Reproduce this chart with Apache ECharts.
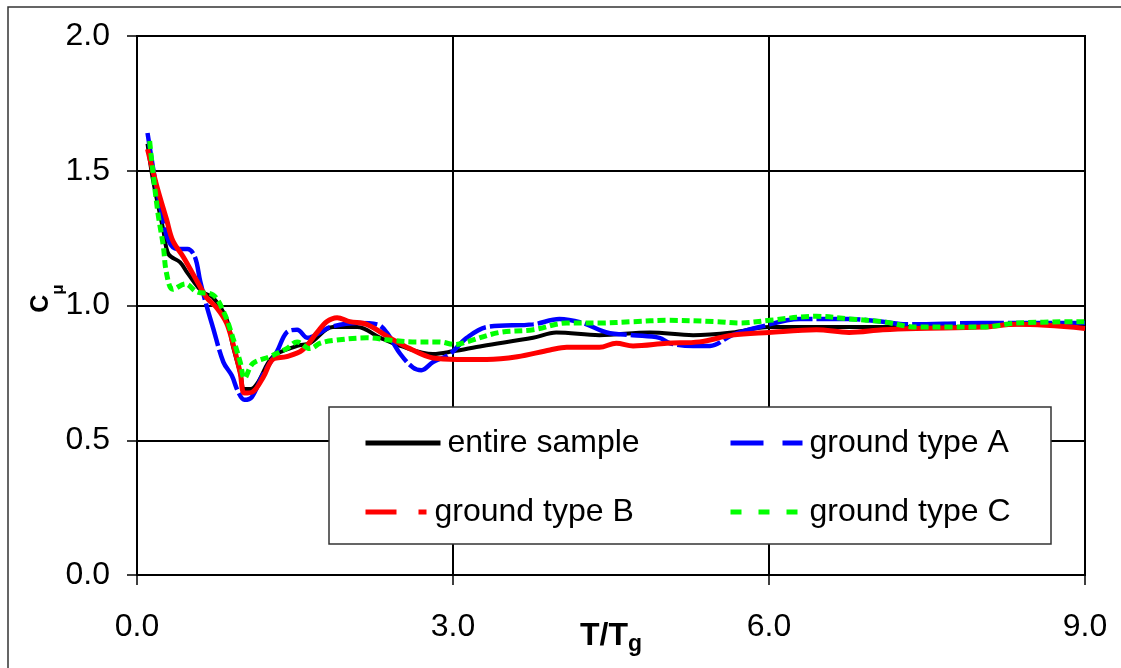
<!DOCTYPE html>
<html><head><meta charset="utf-8">
<script src="https://cdn.jsdelivr.net/npm/echarts@6/dist/echarts.min.js"></script>
<style>html,body{margin:0;padding:0;background:#fff}#c{width:1121px;height:668px}</style>
</head><body><div id="c"></div>
<script>
// ---- data ----
const seriesNames = ['entire sample', 'ground type A', 'ground type B', 'ground type C'];
const xTickValues = [0, 3, 6, 9];
const yTickValues = [0, 0.5, 1, 1.5, 2];

const entireX = [0.10,0.15,0.25,0.30,0.41,0.48,0.62,0.72,0.85,0.91,0.98,1.02,1.08,1.14,1.29,1.52,1.64,1.86,2.09,2.31,2.50,2.81,3.00,3.28,3.76,3.98,4.39,4.87,5.28,5.65,6.00,6.45,7.08,7.70,8.40,9.00];
const entireY = [1.60,1.47,1.28,1.19,1.16,1.12,1.05,1.03,0.95,0.85,0.75,0.69,0.69,0.71,0.81,0.85,0.86,0.92,0.92,0.88,0.85,0.82,0.83,0.85,0.88,0.90,0.89,0.90,0.89,0.90,0.92,0.92,0.92,0.92,0.93,0.93];

const typeAX = [0.10,0.17,0.24,0.30,0.38,0.48,0.55,0.60,0.66,0.72,0.82,0.90,0.96,1.02,1.09,1.19,1.33,1.42,1.52,1.62,1.74,1.83,2.09,2.28,2.37,2.50,2.62,2.70,2.81,2.97,3.13,3.32,3.76,4.01,4.23,4.46,4.71,4.96,5.06,5.28,5.44,5.65,5.91,6.29,6.76,7.08,7.30,8.03,9.00];
const typeAY = [1.64,1.47,1.33,1.24,1.21,1.21,1.18,1.09,1.00,0.92,0.79,0.74,0.68,0.65,0.66,0.74,0.83,0.90,0.91,0.88,0.90,0.92,0.935,0.93,0.90,0.82,0.77,0.76,0.79,0.82,0.88,0.92,0.93,0.95,0.935,0.90,0.89,0.88,0.86,0.85,0.85,0.89,0.92,0.95,0.95,0.94,0.93,0.935,0.935];

const typeBX = [0.10,0.19,0.28,0.34,0.44,0.57,0.66,0.76,0.85,0.91,0.98,1.02,1.10,1.20,1.29,1.42,1.57,1.71,1.80,1.90,2.02,2.18,2.40,2.59,2.81,3.04,3.32,3.61,3.92,4.08,4.39,4.55,4.71,5.03,5.34,5.65,6.00,6.45,6.76,7.08,7.40,8.03,8.35,9.00];
const typeBY = [1.58,1.44,1.32,1.24,1.18,1.09,1.03,0.99,0.935,0.86,0.75,0.675,0.68,0.735,0.80,0.81,0.835,0.90,0.94,0.955,0.94,0.93,0.88,0.84,0.805,0.80,0.80,0.81,0.835,0.845,0.845,0.86,0.85,0.86,0.865,0.89,0.90,0.91,0.90,0.91,0.915,0.92,0.93,0.915];

const typeCX = [0.12,0.15,0.20,0.25,0.28,0.34,0.46,0.57,0.72,0.83,0.91,0.98,1.02,1.10,1.26,1.42,1.52,1.64,1.74,1.86,2.18,2.43,2.66,2.87,3.02,3.13,3.44,3.76,4.08,4.39,4.71,5.03,5.50,5.72,6.00,6.45,6.76,7.08,7.40,7.71,8.03,8.35,9.00];
const typeCY = [1.61,1.50,1.34,1.22,1.12,1.06,1.08,1.05,1.04,0.97,0.88,0.79,0.73,0.785,0.81,0.84,0.865,0.84,0.86,0.87,0.88,0.87,0.865,0.865,0.855,0.865,0.90,0.91,0.935,0.935,0.94,0.945,0.94,0.935,0.945,0.96,0.95,0.94,0.92,0.92,0.92,0.935,0.94];

const xTitleMain = 'T/T', xTitleSub = 'g';
const yTitleMain = 'C', yTitleSub = 'μ';

// ---- build ----
function pairs(xs, ys) { return xs.map((x, i) => [x, ys[i]]); }
const FONT = '"Liberation Sans", Arial, Helvetica, sans-serif';
const chart = echarts.init(document.getElementById('c'), null, {renderer: 'canvas'});

const colors = ['#000000', '#0000ff', '#ff0000', '#00ff00'];
const plotDash = ['solid', [44, 4], 'solid', [8, 4]];
const plotWidth = [4, 4.5, 5, 5];
const legendDash = ['solid', [33, 19], [31, 22, 8, 30], [11, 17]];
const legendPos = [[363, 443, 75], [728, 443, 72], [363, 512, 62], [728, 512, 72]];
const dataX = [entireX, typeAX, typeBX, typeCX];
const dataY = [entireY, typeAY, typeBY, typeCY];

const series = seriesNames.map((n, i) => ({
  name: n, type: 'line', data: pairs(dataX[i], dataY[i]),
  showSymbol: false, symbol: 'none', smooth: 0.35, z: 2 + i * 0.1,
  lineStyle: {color: colors[i], width: plotWidth[i], type: plotDash[i]},
  itemStyle: {color: colors[i]}
}));

const legends = seriesNames.map((n, i) => ({
  show: true, data: [n], left: legendPos[i][0], top: legendPos[i][1] - 16, padding: 0,
  itemWidth: legendPos[i][2], itemHeight: 5, itemGap: 0, selectedMode: false, z: 10,
  textStyle: {fontSize: 32, fontFamily: FONT, color: '#000', padding: [0, 0, 0, 2]},
  itemStyle: {opacity: 0},
  lineStyle: {width: 5, type: legendDash[i], color: colors[i]}
}));

const option = {
  backgroundColor: '#fff',
  animation: false,
  grid: {left: 137, top: 36, right: 36, bottom: 93, show: true, borderColor: '#000', borderWidth: 2,
         outerBoundsMode: 'none', containLabel: false},
  xAxis: {
    type: 'value', min: xTickValues[0], max: xTickValues[xTickValues.length - 1], interval: xTickValues[1] - xTickValues[0],
    axisLine: {show: true, onZero: false, lineStyle: {color: '#000', width: 2}},
    axisTick: {show: true, length: 10, lineStyle: {color: '#000', width: 1.5}},
    axisLabel: {formatter: v => v.toFixed(1), fontSize: 32, color: '#000', fontFamily: FONT, margin: 36},
    splitLine: {show: true, lineStyle: {color: '#000', width: 2}},
    name: '{m|' + xTitleMain + '}{s|' + xTitleSub + '}', nameLocation: 'middle', nameGap: 45, nameMoveOverlap: false,
    nameTextStyle: {rich: {
      m: {fontSize: 32, fontWeight: 'bold', fontFamily: FONT, color: '#000', verticalAlign: 'bottom', padding: [0, 0, 4, 0]},
      s: {fontSize: 23, fontWeight: 'bold', fontFamily: FONT, color: '#000', verticalAlign: 'bottom'}
    }}
  },
  yAxis: {
    type: 'value', min: yTickValues[0], max: yTickValues[yTickValues.length - 1], interval: yTickValues[1] - yTickValues[0],
    axisLine: {show: true, lineStyle: {color: '#000', width: 2}},
    axisTick: {show: true, length: 10, lineStyle: {color: '#000', width: 1.5}},
    axisLabel: {formatter: v => v.toFixed(1), fontSize: 32, color: '#000', fontFamily: FONT, margin: 27},
    splitLine: {show: true, lineStyle: {color: '#000', width: 2}},
    name: '{m|' + yTitleMain + '}{s|' + yTitleSub + '}', nameLocation: 'middle', nameGap: 70, nameRotate: 90, nameMoveOverlap: false,
    nameTextStyle: {padding: [0, 0, 0, 14], rich: {
      m: {fontSize: 25, fontWeight: 'bold', fontFamily: FONT, color: '#000', verticalAlign: 'bottom', padding: [0, 0, 13, 0]},
      s: {fontSize: 17, fontWeight: 'bold', fontFamily: FONT, color: '#000', verticalAlign: 'bottom'}
    }}
  },
  legend: legends,
  graphic: {elements: [
    {type: 'rect', silent: true, z: 0, shape: {x: 8, y: 7, width: 1400, height: 900}, style: {fill: 'none', stroke: '#333', lineWidth: 1.5}},
    {type: 'rect', silent: true, z: 3, shape: {x: 329, y: 407, width: 722, height: 137}, style: {fill: '#fff', stroke: '#333', lineWidth: 1.5}}
  ]},
  series: series
};
chart.setOption(option);
</script>
</body></html>
